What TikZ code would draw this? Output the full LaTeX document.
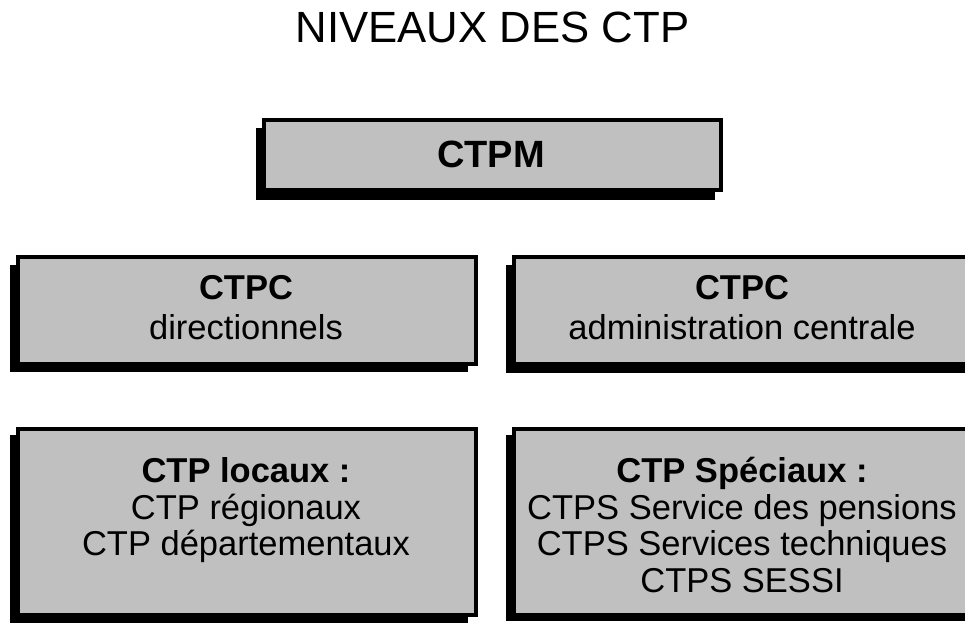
\documentclass[tikz,border=0pt]{standalone}
\usepackage{fontspec}
\setmainfont{Liberation Sans}
\begin{document}
\begin{tikzpicture}[x=1pt,y=-1pt,
  panel/.style={draw=black,line width=4pt,fill=boxgray,rectangle,inner sep=0pt,outer sep=0pt},
  shade/.style={fill=black},
  bodytext/.style={anchor=base,inner sep=0pt,font=\fontsize{34.5}{37}\selectfont},
  headtext/.style={bodytext,font=\fontsize{34.5}{37}\selectfont\bfseries},
]
\definecolor{boxgray}{HTML}{C0C0C0}
\useasboundingbox (0,0) rectangle (965,628);
\fill[white] (0,0) rectangle (965,628);
% title
\node[anchor=base,inner sep=0pt,font=\fontsize{43.7}{48}\selectfont] (title) at (492.5,43) {NIVEAUX DES CTP};
% CTPM
\fill[shade] (256,128) rectangle (715,200);
\node[panel,minimum width=456.5pt,minimum height=70pt] (ctpm) at (492.25,155.5) {};
\node[anchor=base,inner sep=0pt,font=\fontsize{38}{40}\selectfont\bfseries] (ctpmt) at (491,168) {CTPM};
% middle left
\fill[shade] (10,265) rectangle (468,372);
\node[panel,minimum width=458.5pt,minimum height=106.5pt] (dir) at (246.75,310.25) {};
\node[headtext] (dirh) at (246,299) {CTPC};
\node[bodytext] (dirt) at (246,339) {directionnels};
% middle right (runs past the right edge)
\fill[shade] (506,265) rectangle (985,373);
\node[panel,minimum width=476.5pt,minimum height=106.5pt] (adm) at (751.75,310.25) {};
\node[headtext] (admh) at (742,299) {CTPC};
\node[bodytext] (admt) at (742,339) {administration centrale};
% bottom left
\fill[shade] (10,435) rectangle (468,623);
\node[panel,minimum width=458.5pt,minimum height=186pt] (loc) at (246.75,521.5) {};
\node[headtext] (loch) at (246,482) {CTP locaux :};
\node[bodytext] (loc1) at (246,519) {CTP régionaux};
\node[bodytext] (loc2) at (246,555) {CTP départementaux};
% bottom right (runs past the right edge)
\fill[shade] (506,435) rectangle (985,621);
\node[panel,minimum width=476.5pt,minimum height=186pt] (spe) at (751.75,521.5) {};
\node[headtext] (speh) at (742,482) {CTP Spéciaux :};
\node[bodytext] (spe1) at (742,519) {CTPS Service des pensions};
\node[bodytext] (spe2) at (742,555) {CTPS Services techniques};
\node[bodytext] (spe3) at (742,592) {CTPS SESSI};
\end{tikzpicture}
\end{document}
